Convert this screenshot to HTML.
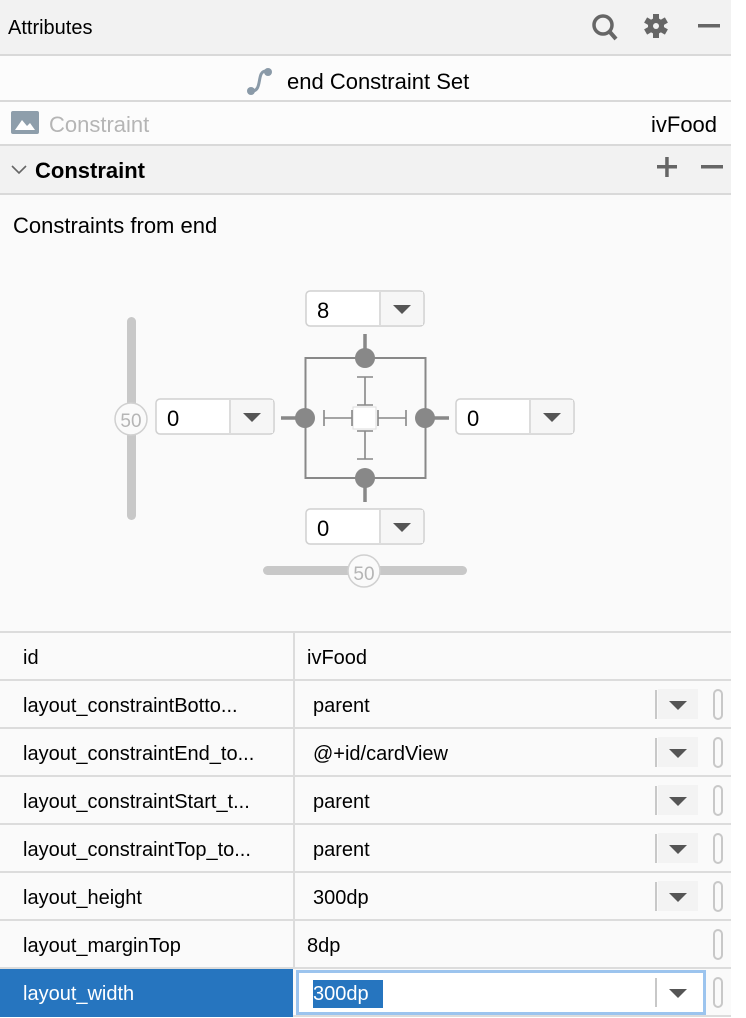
<!DOCTYPE html>
<html><head><meta charset="utf-8"><style>
*{margin:0;padding:0;box-sizing:border-box}
body{width:746px;height:1018px;background:#fff;font-family:"Liberation Sans",sans-serif;color:#000;position:relative;overflow:hidden}
.a{position:absolute}
.hl{position:absolute;left:0;width:731px;height:2px;background:#d9d9d9}
.row{position:absolute;left:0;width:731px;height:48px;background:#fafafa;border-bottom:2px solid #dcdcdc;font-size:20px}
.row .k{position:absolute;left:23px;top:14px}
.row .v{position:absolute;left:313px;top:14px}
.row .sep{position:absolute;left:293px;top:0;width:2px;height:48px;background:#dcdcdc}
.dd{position:absolute;left:655px;top:9px;width:2px;height:29px;background:#c8c8c8}
.ddb{position:absolute;left:658px;top:8px;width:40px;height:30px;background:#f3f3f3}
.tri{position:absolute;left:669px;top:20px;width:0;height:0;border-left:9px solid transparent;border-right:9px solid transparent;border-top:9px solid #555}
.pill{position:absolute;left:713px;top:8px;width:10px;height:31px;border:2px solid #c8c8c8;border-radius:6px}
</style></head><body>
<div class="a" style="left:0;top:0;width:731px;height:55px;background:#f2f2f2"></div>
<div class="a" style="left:8px;top:17px;font-size:20px">Attributes</div>
<svg class="a" style="left:588px;top:12px" width="140" height="32">
 <circle cx="15" cy="13" r="9" fill="none" stroke="#666" stroke-width="3.5"/>
 <line x1="21" y1="19" x2="28" y2="27" stroke="#666" stroke-width="4"/>
 <g transform="translate(68,14)" fill="#666"><circle r="8"/><rect x="-3" y="-12" width="6" height="24"/><rect x="-3" y="-12" width="6" height="24" transform="rotate(60)"/><rect x="-3" y="-12" width="6" height="24" transform="rotate(120)"/><circle r="3" fill="#f2f2f2"/></g>
 <rect x="110" y="12" width="22" height="3.5" fill="#666"/>
</svg>
<div class="hl" style="top:54px"></div>
<div class="a" style="left:0;top:56px;width:731px;height:45px;background:#fcfcfc"></div>
<svg class="a" style="left:246px;top:66px" width="34" height="30"><path d="M20 5 C10 5 17 25 6 25" fill="none" stroke="#8a9aa8" stroke-width="3"/><circle cx="22" cy="6" r="4" fill="#8a9aa8"/><circle cx="5" cy="25" r="4" fill="#8a9aa8"/></svg>
<div class="a" style="left:287px;top:69px;font-size:22px">end Constraint Set</div>
<div class="hl" style="top:100px"></div>
<div class="a" style="left:0;top:102px;width:731px;height:43px;background:#fcfcfc"></div>
<svg class="a" style="left:11px;top:111px" width="28" height="24"><rect width="28" height="23" rx="2" fill="#8e9eab"/><path d="M4 19 L11 9 L16 15 L19 12 L24 19Z" fill="#fff"/></svg>
<div class="a" style="left:49px;top:112px;font-size:22px;color:#b5b5b5">Constraint</div>
<div class="a" style="left:651px;top:112px;font-size:22px">ivFood</div>
<div class="hl" style="top:144px"></div>
<div class="a" style="left:0;top:146px;width:731px;height:48px;background:#f2f2f2"></div>
<svg class="a" style="left:11px;top:164px" width="16" height="12"><path d="M1 2 L8 9 L15 2" fill="none" stroke="#666" stroke-width="1.6"/></svg>
<div class="a" style="left:35px;top:158px;font-size:22px;font-weight:bold">Constraint</div>
<svg class="a" style="left:655px;top:155px" width="76" height="24"><rect x="2" y="10" width="20" height="3.5" fill="#666"/><rect x="10.2" y="2" width="3.5" height="20" fill="#666"/><rect x="46" y="10" width="22" height="3.5" fill="#666"/></svg>
<div class="hl" style="top:193px"></div>
<div class="a" style="left:0;top:195px;width:731px;height:437px;background:#fafafa"></div>
<div class="a" style="left:13px;top:213px;font-size:22px">Constraints from end</div>
<svg class="a" style="left:0;top:195px" width="731" height="437" font-family="Liberation Sans,sans-serif">
 <g transform="translate(0,-195)">
 <rect x="127" y="317" width="9" height="203" rx="4.5" fill="#c8c8c8"/>
 <circle cx="131" cy="419" r="16" fill="#fafafa" stroke="#d0d0d0" stroke-width="1.5"/>
 <text x="131" y="427" font-size="19" fill="#b5b5b5" text-anchor="middle">50</text>
 <rect x="263" y="566" width="204" height="9" rx="4.5" fill="#c8c8c8"/>
 <circle cx="364" cy="571" r="16" fill="#fafafa" stroke="#d0d0d0" stroke-width="1.5"/>
 <text x="364" y="580" font-size="19" fill="#b5b5b5" text-anchor="middle">50</text>
 <g fill="#fff" stroke="#d0d0d0" stroke-width="1.5">
  <rect x="306" y="291" width="118" height="35" rx="4"/>
  <rect x="156" y="399" width="118" height="35" rx="4"/>
  <rect x="456" y="399" width="118" height="35" rx="4"/>
  <rect x="306" y="509" width="118" height="35" rx="4"/>
 </g>
 <g fill="#f6f6f6"><rect x="381" y="292" width="42" height="33"/><rect x="231" y="400" width="42" height="33"/><rect x="531" y="400" width="42" height="33"/><rect x="381" y="510" width="42" height="33"/></g>
 <g stroke="#d0d0d0" stroke-width="1.5"><line x1="380" y1="292" x2="380" y2="325"/><line x1="230" y1="400" x2="230" y2="433"/><line x1="530" y1="400" x2="530" y2="433"/><line x1="380" y1="510" x2="380" y2="543"/></g>
 <g fill="#555"><path d="M393 305h18l-9 9z"/><path d="M243 413h18l-9 9z"/><path d="M543 413h18l-9 9z"/><path d="M393 523h18l-9 9z"/></g>
 <g font-size="22" fill="#000"><text x="317" y="318">8</text><text x="167" y="426">0</text><text x="467" y="426">0</text><text x="317" y="536">0</text></g>
 <rect x="305.5" y="358" width="120" height="120" fill="none" stroke="#888" stroke-width="2"/>
 <g stroke="#888" stroke-width="3.5"><line x1="365" y1="334" x2="365" y2="358"/><line x1="365" y1="478" x2="365" y2="502"/><line x1="281" y1="418" x2="305" y2="418"/><line x1="425" y1="418" x2="449" y2="418"/></g>
 <g fill="#888"><circle cx="365" cy="358" r="10"/><circle cx="365" cy="478" r="10"/><circle cx="305" cy="418" r="10"/><circle cx="425" cy="418" r="10"/></g>
 <rect x="353" y="407" width="23" height="22" fill="#fff" stroke="#ddd" stroke-width="1"/>
 <g stroke="#888" stroke-width="1.6" fill="none">
  <path d="M357 377h16M365 377v28M357 405h16"/>
  <path d="M357 431h16M365 431v28M357 459h16"/>
  <path d="M324 410v16M324 418h28M352 410v16"/>
  <path d="M378 410v16M378 418h28M406 410v16"/>
 </g>
 </g>
</svg>
<div class="hl" style="top:631px;background:#dcdcdc"></div>
<div class="row" style="top:633px"><div class="k">id</div><div class="sep"></div><div class="v" style="left:307px">ivFood</div></div>
<div class="row" style="top:681px"><div class="k">layout_constraintBotto...</div><div class="sep"></div><div class="v">parent</div><div class="dd"></div><div class="ddb"></div><div class="tri"></div><div class="pill"></div></div>
<div class="row" style="top:729px"><div class="k">layout_constraintEnd_to...</div><div class="sep"></div><div class="v">@+id/cardView</div><div class="dd"></div><div class="ddb"></div><div class="tri"></div><div class="pill"></div></div>
<div class="row" style="top:777px"><div class="k">layout_constraintStart_t...</div><div class="sep"></div><div class="v">parent</div><div class="dd"></div><div class="ddb"></div><div class="tri"></div><div class="pill"></div></div>
<div class="row" style="top:825px"><div class="k">layout_constraintTop_to...</div><div class="sep"></div><div class="v">parent</div><div class="dd"></div><div class="ddb"></div><div class="tri"></div><div class="pill"></div></div>
<div class="row" style="top:873px"><div class="k">layout_height</div><div class="sep"></div><div class="v">300dp</div><div class="dd"></div><div class="ddb"></div><div class="tri"></div><div class="pill"></div></div>
<div class="row" style="top:921px"><div class="k">layout_marginTop</div><div class="sep"></div><div class="v" style="left:307px">8dp</div><div class="pill"></div></div>
<div class="row" style="top:969px">
 <div class="a" style="left:0;top:0;width:293px;height:48px;background:#2675bf"></div>
 <div class="k" style="color:#fff">layout_width</div>
 <div class="a" style="left:296px;top:1px;width:410px;height:45px;background:#fff;border:3px solid #9cc4ee"></div>
 <div class="a" style="left:313px;top:11px;height:28px;width:70px;background:#2675bf"></div>
 <div class="v" style="color:#fff">300dp</div>
 <div class="dd"></div><div class="tri"></div><div class="pill"></div>
</div>
</body></html>
